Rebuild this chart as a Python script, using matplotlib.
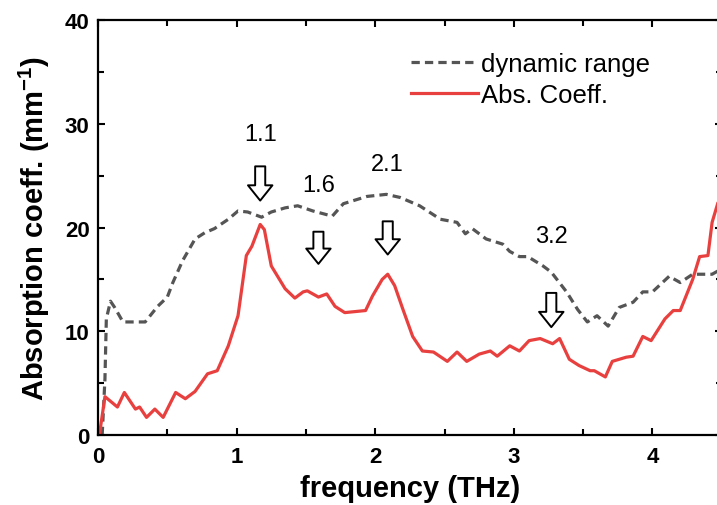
import matplotlib
matplotlib.use('Agg')
import matplotlib.pyplot as plt
from matplotlib.ticker import MultipleLocator

plt.rcParams['font.family'] = ['Liberation Sans', 'DejaVu Sans']
plt.rcParams['mathtext.fontset'] = 'custom'
plt.rcParams['mathtext.bf'] = 'Liberation Sans:bold'
plt.rcParams['mathtext.rm'] = 'Liberation Sans'

# red curve
freq_abs = [0.01, 0.05, 0.14, 0.19, 0.27, 0.30, 0.35, 0.41, 0.47, 0.56, 0.63, 0.70,
            0.79, 0.86, 0.94, 1.01, 1.07, 1.11, 1.17, 1.20, 1.25, 1.35, 1.42, 1.48,
            1.51, 1.59, 1.65, 1.71, 1.78, 1.93, 1.98, 2.05, 2.09, 2.14, 2.20, 2.27,
            2.34, 2.42, 2.52, 2.59, 2.66, 2.75, 2.83, 2.88, 2.97, 3.04, 3.11, 3.19,
            3.28, 3.33, 3.40, 3.47, 3.55, 3.58, 3.66, 3.71, 3.81, 3.86, 3.93, 3.99,
            4.09, 4.15, 4.20, 4.29, 4.34, 4.40, 4.43, 4.47]
abs_coeff = [0.0, 3.7, 2.7, 4.1, 2.5, 2.7, 1.7, 2.5, 1.7, 4.1, 3.5, 4.2,
             5.9, 6.2, 8.6, 11.5, 17.3, 18.2, 20.3, 19.8, 16.3, 14.1, 13.2, 13.8,
             13.9, 13.3, 13.6, 12.4, 11.8, 12.0, 13.4, 15.0, 15.5, 14.4, 12.1, 9.5,
             8.1, 8.0, 7.1, 8.0, 7.1, 7.8, 8.1, 7.6, 8.6, 8.1, 9.1, 9.3,
             8.8, 9.3, 7.3, 6.7, 6.2, 6.2, 5.6, 7.1, 7.5, 7.6, 9.5, 9.1,
             11.2, 12.0, 12.0, 15.0, 17.2, 17.3, 20.5, 22.3]

# gray dashed curve
freq_dr = [0.03, 0.05, 0.06, 0.09, 0.12, 0.18, 0.34, 0.43, 0.50, 0.54, 0.61, 0.70,
           0.77, 0.84, 0.94, 1.01, 1.08, 1.18, 1.25, 1.35, 1.44, 1.55, 1.69, 1.77,
           1.94, 2.08, 2.18, 2.32, 2.47, 2.59, 2.65, 2.70, 2.80, 2.92, 2.97, 3.04,
           3.10, 3.21, 3.27, 3.38, 3.46, 3.53, 3.60, 3.68, 3.76, 3.86, 3.93, 4.00,
           4.12, 4.20, 4.29, 4.43, 4.47]
dyn_range = [0.0, 5.4, 11.2, 12.9, 12.3, 10.9, 10.9, 12.4, 13.3, 14.7, 16.8, 18.9,
             19.5, 19.9, 20.8, 21.6, 21.5, 21.0, 21.5, 21.9, 22.1, 21.6, 21.1, 22.3,
             23.0, 23.2, 22.9, 22.1, 20.8, 20.5, 19.4, 19.9, 18.9, 18.4, 17.7, 17.2,
             17.2, 16.3, 15.7, 13.8, 12.1, 10.9, 11.5, 10.5, 12.3, 12.8, 13.8, 13.8,
             15.3, 14.7, 15.5, 15.5, 15.8]

# marked peaks: label, x, label y, arrow top, arrow tip
peak_labels = ['1.1', '1.6', '2.1', '3.2']
peak_x = [1.17, 1.59, 2.09, 3.27]
label_y = [29.0, 24.1, 26.1, 19.2]
arrow_top = [25.9, 19.6, 20.6, 13.7]
arrow_tip = [22.6, 16.5, 17.4, 10.4]

fig = plt.figure(figsize=(7.17, 5.06), dpi=100)
ax = fig.add_axes([0.1367, 0.1383, 0.870, 0.820])

ax.plot(freq_dr, dyn_range, color='#555555', lw=2.3, ls=(0, (2.6, 1.6)),
        label='dynamic range')
ax.plot(freq_abs, abs_coeff, color='#e8403e', lw=2.3, label='Abs. Coeff.')

for lab, x, ly, top, tip in zip(peak_labels, peak_x, label_y, arrow_top, arrow_tip):
    ax.text(x, ly, lab, ha='center', va='center', fontsize=17)
    ax.annotate('', xy=(x, tip), xytext=(x, top),
                arrowprops=dict(arrowstyle='simple,head_length=0.5,head_width=0.8,tail_width=0.33',
                                fc='white', ec='black', lw=1.4, shrinkA=0, shrinkB=0,
                                mutation_scale=22))

ax.set_xlim(0, 4.5)
ax.set_ylim(0, 40)
ax.xaxis.set_major_locator(MultipleLocator(1))
ax.xaxis.set_minor_locator(MultipleLocator(0.5))
ax.yaxis.set_major_locator(MultipleLocator(10))
ax.yaxis.set_minor_locator(MultipleLocator(5))
ax.tick_params(which='both', direction='in', top=True, right=True, width=1.5)
ax.tick_params(which='major', length=5, labelsize=16)
ax.tick_params(axis='x', which='major', pad=8)
ax.tick_params(axis='y', which='major', pad=6)
ax.tick_params(which='minor', length=4)
for lbl in ax.get_xticklabels() + ax.get_yticklabels():
    lbl.set_fontweight('bold')
for sp in ax.spines.values():
    sp.set_linewidth(1.6)

ax.set_xlabel('frequency (THz)', fontsize=21, fontweight='bold', labelpad=5)
ax.set_ylabel(r'Absorption coeff. (mm$^{\mathbf{-1}}$)', fontsize=21,
              fontweight='bold', labelpad=9)

ax.legend(loc='upper left', bbox_to_anchor=(0.465, 0.98), frameon=False, fontsize=18.5,
          handlelength=2.6, handletextpad=0.12, labelspacing=0.3)

fig.savefig('out.png', dpi=100)
